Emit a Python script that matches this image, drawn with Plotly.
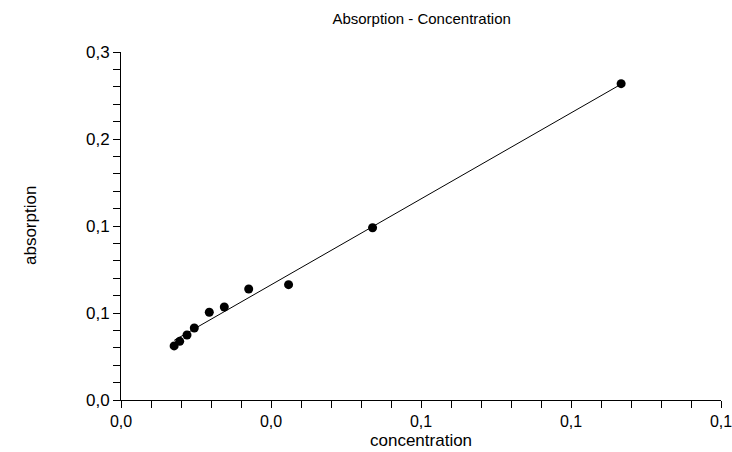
import numpy as np
import plotly.graph_objects as go

concentration = [0.0124, 0.0137, 0.0154, 0.0171, 0.0206, 0.0241, 0.0298, 0.0391, 0.0587, 0.1167]
absorption = [0.0435, 0.0472, 0.0523, 0.0579, 0.0706, 0.0748, 0.0893, 0.0928, 0.1386, 0.2545]

x_ticks = [0.0, 0.035, 0.07, 0.105, 0.14]
x_labels = ["0,0", "0,0", "0,1", "0,1", "0,1"]
y_ticks = [0.0, 0.07, 0.14, 0.21, 0.28]
y_labels = ["0,0", "0,1", "0,1", "0,2", "0,3"]

slope, intercept = np.polyfit(concentration, absorption, 1)
fit_x = [min(concentration), max(concentration)]
fit_y = [slope * v + intercept for v in fit_x]

fig = go.Figure()
fig.add_trace(go.Scatter(x=fit_x, y=fit_y, mode="lines",
                         line=dict(color="black", width=1), showlegend=False))
fig.add_trace(go.Scatter(x=concentration, y=absorption, mode="markers",
                         marker=dict(color="black", size=9, symbol="circle"),
                         showlegend=False))

font = "Liberation Sans, Arial, sans-serif"
fig.update_layout(
    width=732, height=452,
    margin=dict(l=121, r=11, t=52, b=52),
    paper_bgcolor="white", plot_bgcolor="white",
    font=dict(family=font, color="black"),
    title=dict(text="Absorption - Concentration", x=0.576, xanchor="center",
               y=0.958, yanchor="middle", font=dict(size=15, family=font, color="black")),
    xaxis=dict(range=[0, 0.14], tickvals=x_ticks, ticktext=x_labels, automargin=False,
               ticklabeloverflow="allow",
               showgrid=False, zeroline=False, showline=True, linecolor="black", linewidth=1,
               ticks="outside", ticklen=7, tickcolor="black",
               minor=dict(dtick=0.007, ticks="outside", ticklen=7, tickcolor="black", showgrid=False),
               tickfont=dict(size=16)),
    yaxis=dict(range=[0, 0.28], tickvals=y_ticks, ticktext=y_labels, automargin=False,
               showgrid=False, zeroline=False, showline=True, linecolor="black", linewidth=1,
               ticks="outside", ticklen=7, tickcolor="black",
               minor=dict(dtick=0.014, ticks="outside", ticklen=7, tickcolor="black", showgrid=False),
               tickfont=dict(size=17)),
    annotations=[
        dict(text="concentration", xref="paper", yref="paper", x=0.5, y=0, yshift=-40,
             xanchor="center", yanchor="middle", showarrow=False, font=dict(size=17)),
        dict(text="absorption", xref="paper", yref="paper", x=0, y=0.5, xshift=-91,
             xanchor="center", yanchor="middle", textangle=-90, showarrow=False, font=dict(size=17)),
    ],
)

fig.write_html("out.html", config={"displayModeBar": False},
               post_script="document.body.style.margin='0';document.body.style.overflow='hidden';")
